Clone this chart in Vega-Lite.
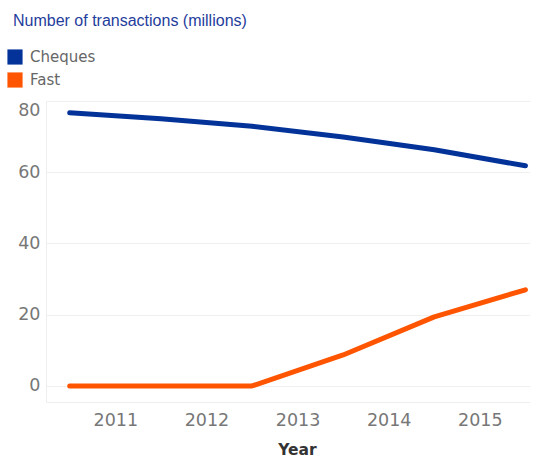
{
  "$schema": "https://vega.github.io/schema/vega-lite/v6.json",
  "width": 484,
  "height": 301,
  "autosize": {"type": "none"},
  "padding": {"left": 46, "top": 101, "right": 11, "bottom": 59},
  "background": "white",
  "title": {
    "text": "Number of transactions (millions)",
    "anchor": "start",
    "frame": "group",
    "dx": -33,
    "offset": 20,
    "font": "Liberation Sans",
    "fontSize": 16,
    "fontWeight": "normal",
    "color": "#1f3d9c"
  },
  "config": {
    "view": {"stroke": null},
    "font": "DejaVu Sans"
  },
  "data": {
    "values": [
      {"year": 2010.5, "series": "Cheques", "value": 76.7},
      {"year": 2011.5, "series": "Cheques", "value": 75.0},
      {"year": 2012.5, "series": "Cheques", "value": 72.9},
      {"year": 2013.5, "series": "Cheques", "value": 69.9},
      {"year": 2014.5, "series": "Cheques", "value": 66.3},
      {"year": 2015.5, "series": "Cheques", "value": 61.8},
      {"year": 2010.5, "series": "Fast", "value": 0},
      {"year": 2011.5, "series": "Fast", "value": 0},
      {"year": 2012.5, "series": "Fast", "value": 0},
      {"year": 2013.5, "series": "Fast", "value": 8.7},
      {"year": 2014.5, "series": "Fast", "value": 19.4},
      {"year": 2015.5, "series": "Fast", "value": 27.0}
    ]
  },
  "mark": {"type": "line", "strokeWidth": 5, "strokeCap": "round", "strokeJoin": "round"},
  "encoding": {
    "x": {
      "field": "year",
      "type": "quantitative",
      "scale": {"domain": [2010.24, 2015.55], "nice": false, "zero": false},
      "axis": {
        "title": "Year",
        "values": [2011, 2012, 2013, 2014, 2015],
        "format": "d",
        "grid": false,
        "ticks": false,
        "domainColor": "#eeeeee",
        "labelFont": "DejaVu Sans",
        "labelFontSize": 17.5,
        "labelColor": "#777777",
        "labelPadding": 9,
        "titleFont": "DejaVu Sans",
        "titleFontSize": 15.5,
        "titleFontWeight": "bold",
        "titleColor": "#333333",
        "titlePadding": 14,
        "titleX": 251
      }
    },
    "y": {
      "field": "value",
      "type": "quantitative",
      "scale": {"domain": [-4.5, 80], "nice": false, "zero": false},
      "axis": {
        "title": null,
        "values": [0, 20, 40, 60, 80],
        "grid": true,
        "gridColor": "#f0f0f0",
        "ticks": false,
        "domainColor": "#eeeeee",
        "labelFlush": true,
        "labelFont": "DejaVu Sans",
        "labelFontSize": 17.5,
        "labelColor": "#777777",
        "labelPadding": 6
      }
    },
    "color": {
      "field": "series",
      "type": "nominal",
      "scale": {"domain": ["Cheques", "Fast"], "range": ["#033399", "#ff5500"]},
      "legend": {
        "title": null,
        "orient": "none",
        "legendX": -39,
        "legendY": -52,
        "symbolType": "square",
        "symbolSize": 230,
        "symbolStrokeWidth": 0,
        "symbolOpacity": 1,
        "labelFont": "DejaVu Sans",
        "labelFontSize": 15,
        "labelColor": "#666666",
        "labelOffset": 7,
        "rowPadding": 7,
        "encode": {
          "symbols": {"update": {"fill": {"scale": "color", "field": "value"}, "strokeWidth": {"value": 0}}}
        }
      }
    }
  }
}
